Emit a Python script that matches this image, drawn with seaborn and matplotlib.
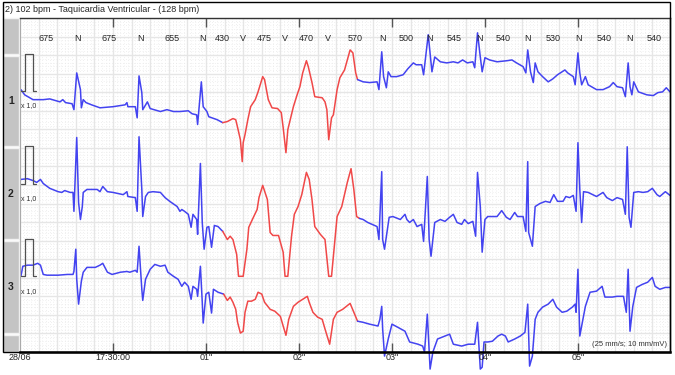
import numpy as np
import pandas as pd
import seaborn as sns
import matplotlib.pyplot as plt
from matplotlib.patches import Rectangle

# header / annotations
title = "2) 102 bpm - Taquicardia Ventricular - (128 bpm)"
beat_t = [-0.38, 0.30, 0.96, 1.40, 1.85, 2.31, 2.90, 3.40, 3.94, 4.46, 5.01, 5.55]
beat_type = ["N", "N", "N", "V", "V", "V", "N", "N", "N", "N", "N", "N"]
rr_ms = [675, 675, 655, 430, 475, 470, 570, 500, 545, 540, 530, 540, 540]
sec_ticks = [0, 1, 2, 3, 4, 5]
sec_labels = ["17:30:00", '01"', '02"', '03"', '04"', '05"']
date_label = "28/06"
speed_note = "(25 mm/s; 10 mm/mV)"
channel_names = ["1", "2", "3"]
gain_label = "x 1,0"
baselines = [-1.96, -4.46, -6.96]      # mV, channel zero lines
red_span = [(1.20, 2.63), (1.20, 2.65), (1.20, 2.63)]   # ventricular run (s)
cal_t = [-0.99, -0.95, -0.95, -0.86, -0.86, -0.83]
cal_v = [0, 0, 1, 1, 0, 0]

# lead 1 (s, mV)
ch1_t = [-0.99, -0.95, -0.86, -0.75, -0.68, -0.57, -0.54, -0.51, -0.44, -0.42,
         -0.39, -0.35, -0.34, -0.32, -0.29, -0.23, -0.14, 0.00, 0.13, 0.15,
         0.16, 0.24, 0.26, 0.28, 0.31, 0.32, 0.37, 0.40, 0.51, 0.58,
         0.65, 0.72, 0.81, 0.85, 0.90, 0.91, 0.95, 0.97, 1.01, 1.03,
         1.12, 1.18, 1.23, 1.29, 1.32, 1.34, 1.37, 1.39, 1.40, 1.42,
         1.45, 1.48, 1.53, 1.56, 1.61, 1.63, 1.67, 1.71, 1.77, 1.81,
         1.83, 1.86, 1.88, 1.94, 1.98, 2.01, 2.04, 2.08, 2.10, 2.14,
         2.17, 2.25, 2.28, 2.30, 2.32, 2.35, 2.37, 2.41, 2.44, 2.49,
         2.55, 2.58, 2.61, 2.63, 2.69, 2.76, 2.84, 2.86, 2.89, 2.91,
         2.94, 2.96, 2.99, 3.05, 3.12, 3.17, 3.23, 3.26, 3.32, 3.34,
         3.39, 3.43, 3.46, 3.52, 3.59, 3.66, 3.71, 3.76, 3.81, 3.87,
         3.89, 3.92, 3.95, 3.97, 4.00, 4.05, 4.13, 4.24, 4.29, 4.34,
         4.41, 4.44, 4.46, 4.49, 4.52, 4.54, 4.57, 4.62, 4.68, 4.73,
         4.78, 4.86, 4.89, 4.95, 4.97, 5.00, 5.02, 5.04, 5.08, 5.11,
         5.20, 5.27, 5.34, 5.38, 5.42, 5.48, 5.51, 5.54, 5.56, 5.58,
         5.60, 5.65, 5.74, 5.81, 5.86, 5.91, 5.95, 5.99]
ch1_v = [0.03, -0.11, -0.24, -0.24, -0.22, -0.30, -0.24, -0.32, -0.35, -0.51,
         0.48, 0.03, -0.46, -0.24, -0.32, -0.38, -0.46, -0.43, -0.38, -0.32,
         -0.43, -0.43, -0.73, 0.40, -0.05, -0.51, -0.30, -0.48, -0.56, -0.51,
         -0.56, -0.56, -0.54, -0.62, -0.65, -0.91, 0.24, -0.43, -0.56, -0.70,
         -0.78, -0.86, -0.83, -0.75, -0.78, -0.99, -1.32, -1.91, -1.40, -1.18,
         -0.78, -0.43, -0.24, -0.03, 0.38, 0.30, -0.24, -0.46, -0.48, -0.59,
         -0.99, -1.67, -1.05, -0.43, -0.11, 0.11, 0.48, 0.81, 0.65, 0.22,
         -0.16, -0.19, -0.30, -0.51, -1.32, -0.73, -0.65, 0.03, 0.35, 0.56,
         1.10, 1.02, 0.48, 0.30, 0.24, 0.22, 0.24, 0.03, 1.05, 0.38,
         0.08, 0.51, 0.38, 0.38, 0.43, 0.59, 0.75, 0.70, 0.70, 0.43,
         1.51, 0.51, 0.91, 0.78, 0.75, 0.78, 0.75, 0.83, 0.75, 0.78,
         0.62, 1.56, 0.91, 0.51, 0.89, 0.83, 0.78, 0.81, 0.83, 0.75,
         0.65, 0.48, 1.10, 0.51, 0.22, 0.75, 0.51, 0.38, 0.24, 0.32,
         0.43, 0.56, 0.48, 0.38, 0.16, 1.02, 0.48, 0.16, 0.38, 0.16,
         0.03, 0.03, 0.11, 0.22, 0.11, 0.08, -0.16, 0.75, 0.11, -0.11,
         0.24, -0.03, -0.11, -0.13, -0.05, -0.03, 0.08, -0.03]

# lead 2
ch2_t = [-0.99, -0.92, -0.86, -0.82, -0.78, -0.75, -0.68, -0.59, -0.55, -0.52,
         -0.46, -0.43, -0.42, -0.39, -0.37, -0.35, -0.33, -0.32, -0.28, -0.17,
         -0.14, -0.11, -0.06, 0.00, 0.11, 0.15, 0.16, 0.24, 0.26, 0.28,
         0.31, 0.32, 0.35, 0.38, 0.43, 0.51, 0.56, 0.61, 0.69, 0.72,
         0.74, 0.77, 0.81, 0.84, 0.86, 0.90, 0.91, 0.94, 0.96, 0.98,
         1.01, 1.03, 1.06, 1.09, 1.13, 1.18, 1.23, 1.26, 1.29, 1.33,
         1.35, 1.40, 1.44, 1.46, 1.51, 1.55, 1.57, 1.61, 1.66, 1.69,
         1.72, 1.78, 1.83, 1.85, 1.88, 1.92, 1.95, 1.99, 2.03, 2.08,
         2.11, 2.14, 2.17, 2.23, 2.28, 2.32, 2.35, 2.41, 2.46, 2.52,
         2.56, 2.59, 2.62, 2.65, 2.69, 2.74, 2.84, 2.86, 2.89, 2.90,
         2.92, 2.97, 3.01, 3.09, 3.14, 3.16, 3.19, 3.23, 3.27, 3.32,
         3.34, 3.38, 3.40, 3.42, 3.46, 3.52, 3.57, 3.62, 3.66, 3.70,
         3.75, 3.78, 3.82, 3.87, 3.90, 3.92, 3.95, 3.97, 4.00, 4.03,
         4.13, 4.18, 4.23, 4.27, 4.32, 4.35, 4.41, 4.44, 4.46, 4.47,
         4.51, 4.54, 4.59, 4.65, 4.70, 4.74, 4.78, 4.84, 4.87, 4.91,
         4.95, 4.98, 5.00, 5.02, 5.04, 5.06, 5.11, 5.20, 5.27, 5.31,
         5.37, 5.42, 5.48, 5.51, 5.53, 5.55, 5.57, 5.60, 5.65, 5.70,
         5.75, 5.80, 5.85, 5.88, 5.94, 5.99]
ch2_v = [0.11, 0.13, 0.08, 0.03, 0.11, 0.00, -0.13, -0.22, -0.24, -0.19,
         -0.24, -0.24, -0.75, 1.24, -0.51, -0.97, -0.62, -0.24, -0.16, -0.16,
         -0.22, -0.08, -0.22, -0.24, -0.30, -0.22, -0.35, -0.38, -0.75, 1.26,
         -0.16, -0.89, -0.35, -0.24, -0.22, -0.24, -0.38, -0.48, -0.62, -0.75,
         -0.70, -0.75, -0.83, -1.18, -0.83, -0.97, -1.37, 0.54, -1.05, -1.77,
         -1.18, -1.16, -1.72, -1.13, -1.16, -1.29, -1.51, -1.42, -1.51, -1.91,
         -2.50, -2.50, -1.77, -1.18, -0.91, -0.70, -0.38, -0.05, -0.43, -1.32,
         -1.40, -1.40, -1.85, -2.50, -2.50, -1.42, -0.83, -0.62, -0.30, 0.30,
         0.11, -0.43, -1.16, -1.37, -1.51, -2.50, -2.50, -0.89, -0.62, 0.03,
         0.40, -0.16, -0.89, -0.94, -0.97, -1.05, -1.16, -1.51, 0.32, -1.51,
         -1.77, -0.91, -0.89, -0.97, -0.83, -0.97, -1.05, -0.97, -1.16, -1.10,
         -1.56, 0.19, -1.51, -1.96, -1.05, -0.97, -1.02, -0.91, -0.83, -1.05,
         -1.10, -0.97, -1.08, -1.02, -1.42, 0.30, -0.62, -1.85, -0.97, -0.89,
         -0.89, -0.73, -0.91, -0.97, -0.78, -0.89, -0.89, -1.29, 0.59, -1.32,
         -1.69, -0.62, -0.54, -0.48, -0.51, -0.30, -0.48, -0.48, -0.35, -0.38,
         -0.32, -0.75, 1.10, -0.16, -1.05, -0.22, -0.24, -0.35, -0.24, -0.38,
         -0.46, -0.38, -0.43, -0.83, 0.99, -0.91, -1.18, -0.24, -0.22, -0.24,
         -0.22, -0.13, -0.30, -0.35, -0.22, -0.32]

# lead 3
ch3_t = [-0.99, -0.97, -0.92, -0.86, -0.81, -0.78, -0.75, -0.71, -0.59, -0.49,
         -0.43, -0.42, -0.40, -0.39, -0.37, -0.34, -0.32, -0.28, -0.19, -0.14,
         -0.11, -0.06, -0.01, 0.08, 0.15, 0.18, 0.24, 0.26, 0.28, 0.31,
         0.32, 0.35, 0.40, 0.45, 0.51, 0.56, 0.59, 0.65, 0.70, 0.74,
         0.77, 0.81, 0.84, 0.86, 0.90, 0.91, 0.94, 0.96, 0.97, 1.00,
         1.03, 1.06, 1.08, 1.13, 1.19, 1.23, 1.26, 1.29, 1.32, 1.34,
         1.37, 1.40, 1.42, 1.45, 1.49, 1.53, 1.56, 1.60, 1.63, 1.69,
         1.74, 1.80, 1.83, 1.86, 1.89, 1.94, 1.99, 2.04, 2.09, 2.11,
         2.15, 2.20, 2.25, 2.28, 2.33, 2.37, 2.41, 2.47, 2.55, 2.59,
         2.63, 2.69, 2.76, 2.85, 2.87, 2.89, 2.90, 2.92, 2.96, 3.00,
         3.06, 3.14, 3.19, 3.28, 3.33, 3.35, 3.38, 3.41, 3.44, 3.49,
         3.57, 3.62, 3.66, 3.75, 3.82, 3.89, 3.92, 3.95, 3.97, 3.99,
         4.03, 4.08, 4.14, 4.18, 4.22, 4.25, 4.32, 4.38, 4.43, 4.46,
         4.48, 4.51, 4.54, 4.57, 4.62, 4.68, 4.73, 4.77, 4.83, 4.88,
         4.94, 4.97, 4.98, 5.00, 5.02, 5.04, 5.08, 5.13, 5.20, 5.26,
         5.29, 5.37, 5.42, 5.49, 5.52, 5.54, 5.56, 5.59, 5.63, 5.69,
         5.75, 5.80, 5.83, 5.88, 5.94, 5.99]
ch3_v = [0.00, 0.27, 0.30, 0.30, 0.35, 0.30, 0.05, 0.03, 0.03, 0.05,
         0.05, 0.13, 0.73, -0.08, -0.75, -0.13, 0.11, 0.24, 0.24, 0.30,
         0.35, 0.11, 0.05, 0.11, 0.13, 0.11, 0.16, 0.11, 0.81, -0.35,
         -0.65, -0.08, 0.19, 0.32, 0.27, 0.30, 0.11, 0.00, -0.08, -0.27,
         -0.16, -0.27, -0.62, -0.27, -0.35, -0.54, 0.27, -0.70, -1.26, -0.48,
         -0.43, -0.99, -0.35, -0.43, -0.48, -0.65, -0.56, -0.70, -0.89, -1.24,
         -1.53, -1.48, -0.97, -0.67, -0.67, -0.62, -0.43, -0.48, -0.70, -0.89,
         -0.94, -1.08, -1.34, -1.59, -1.16, -0.81, -0.70, -0.62, -0.54, -0.70,
         -0.97, -1.10, -1.16, -1.42, -1.83, -1.16, -0.97, -0.89, -0.73, -0.97,
         -1.21, -1.24, -1.29, -1.34, -1.16, -0.81, -1.42, -2.15, -1.69, -1.29,
         -1.37, -1.48, -1.77, -1.83, -1.88, -2.04, -1.02, -2.50, -2.04, -1.69,
         -1.61, -1.56, -1.83, -1.88, -1.83, -1.83, -1.24, -2.50, -2.45, -1.77,
         -1.77, -1.75, -1.61, -1.56, -1.61, -1.77, -1.69, -1.61, -1.51, -0.75,
         -2.42, -2.15, -1.16, -0.97, -0.83, -0.75, -0.62, -0.83, -0.97, -0.94,
         -0.83, -0.75, -0.97, 0.19, -1.61, -1.34, -0.81, -0.43, -0.40, -0.27,
         -0.56, -0.56, -0.54, -0.54, -0.97, 0.19, -1.48, -0.81, -0.30, -0.22,
         -0.16, -0.03, -0.27, -0.35, -0.30, -0.30]

leads = [(ch1_t, ch1_v), (ch2_t, ch2_v), (ch3_t, ch3_v)]

BLUE = "#4343f0"
RED = "#f04848"
W, H = 675, 375


def fx(x):
    return x / W


def fy(y):
    return 1 - y / H


sns.set_style("white")
plt.rcParams['font.family'] = ['Liberation Sans', 'DejaVu Sans']

fig = plt.figure(figsize=(6.75, 3.75), dpi=100)
ax = fig.add_axes([fx(20), fy(352), fx(670) - fx(20), fy(18) - fy(352)])
ax.set_xlim(-1.0, 5.99)
ax.set_ylim(-8.98, 0)

# paper grid: 0.2 s / 0.5 mV, dotted 0.04 s / 0.1 mV
ax.set_xticks(np.arange(-1.0, 6.0, 0.2))
ax.set_xticks(np.arange(-1.0, 6.0, 0.04), minor=True)
ax.set_yticks(np.arange(-9.0, 0.01, 0.5))
ax.set_yticks(np.arange(-9.0, 0.01, 0.1), minor=True)
ax.grid(which='major', color='#e6e6e6', lw=1.0)
ax.grid(which='minor', color='#e2e2e2', lw=0.5, ls=(0, (1, 3)))
ax.tick_params(which='both', length=0, labelbottom=False, labelleft=False)
ax.set_axisbelow(True)
ax.spines['bottom'].set_color('black')
ax.spines['bottom'].set_linewidth(1.8)
ax.spines['right'].set_color('black')
ax.spines['right'].set_linewidth(1.0)
ax.spines['top'].set_color('#333333')
ax.spines['top'].set_linewidth(1.0)
ax.spines['left'].set_color('#aaaaaa')
ax.spines['left'].set_linewidth(0.8)

for i, (t, v) in enumerate(leads):
    t = np.array(t)
    v = np.array(v) + baselines[i]
    a = np.searchsorted(t, red_span[i][0])
    b = np.searchsorted(t, red_span[i][1])
    parts = [(slice(0, a), BLUE), (slice(a - 1, b + 1), RED), (slice(b, len(t)), BLUE)]
    for sl, col in parts:
        sns.lineplot(x=t[sl], y=v[sl], color=col, lw=1.1, ax=ax,
                     estimator=None, sort=False)
    sns.lineplot(x=cal_t, y=np.array(cal_v) + baselines[i], color='#505050',
                 lw=0.9, ax=ax, estimator=None, sort=False)
    ax.text(-0.985, baselines[i] - 0.40, gain_label, fontsize=5, va='center',
            color='#333333')
    fig.text(fx(11), fy([101, 194, 287][i]), channel_names[i], fontsize=7.5,
             fontweight='bold', ha='center', va='center')

for ln in ax.lines:
    ln.set_clip_on(False)

# beat annotations
lab_y = -0.54
for bt, typ in zip(beat_t, beat_type):
    ax.text(bt, lab_y, typ, ha='center', va='center', fontsize=6.5)
rr_x = [beat_t[0] - rr_ms[0] / 2000]
rr_x += [(beat_t[k - 1] + beat_t[k]) / 2 for k in range(1, len(beat_t))]
rr_x += [beat_t[-1] + rr_ms[-1] / 2000]
for x, rr in zip(rr_x, rr_ms):
    ax.text(x, lab_y, str(rr), ha='center', va='center', fontsize=6.5)

# second ticks
tr = ax.get_xaxis_transform()
ax.vlines(sec_ticks, 1 - 9 / 334, 1, transform=tr, color='#555555', lw=1)
ax.vlines(sec_ticks, 0, 9 / 334, transform=tr, color='#555555', lw=1)
for x, lab in zip(sec_ticks, sec_labels):
    ax.text(x, -6 / 334, lab, transform=tr, ha='center', va='center', fontsize=6.5)
ax.text(-1.0, -6 / 334, date_label, transform=tr, ha='center', va='center', fontsize=6.5)
ax.text(0.995, 0.022, speed_note, transform=ax.transAxes, ha='right', va='center',
        fontsize=5.5, color='#333333')

# left channel panel
for y0, y1 in [(18, 54), (56, 146), (148, 239), (241, 333), (335, 352)]:
    fig.add_artist(Rectangle((fx(3), fy(y1)), fx(19) - fx(3), fy(y0) - fy(y1),
                             transform=fig.transFigure, facecolor='#c4c4c4',
                             edgecolor='#f2f2f2', lw=1.0, zorder=0))

# outer frame + title bar
fig.add_artist(Rectangle((fx(3), fy(352)), fx(670) - fx(3), fy(2) - fy(352),
                         transform=fig.transFigure, fill=False,
                         edgecolor='black', lw=1.0))
fig.text(fx(5), fy(10), title, fontsize=6.5, va='center')

fig.savefig('out.png', dpi=100)
